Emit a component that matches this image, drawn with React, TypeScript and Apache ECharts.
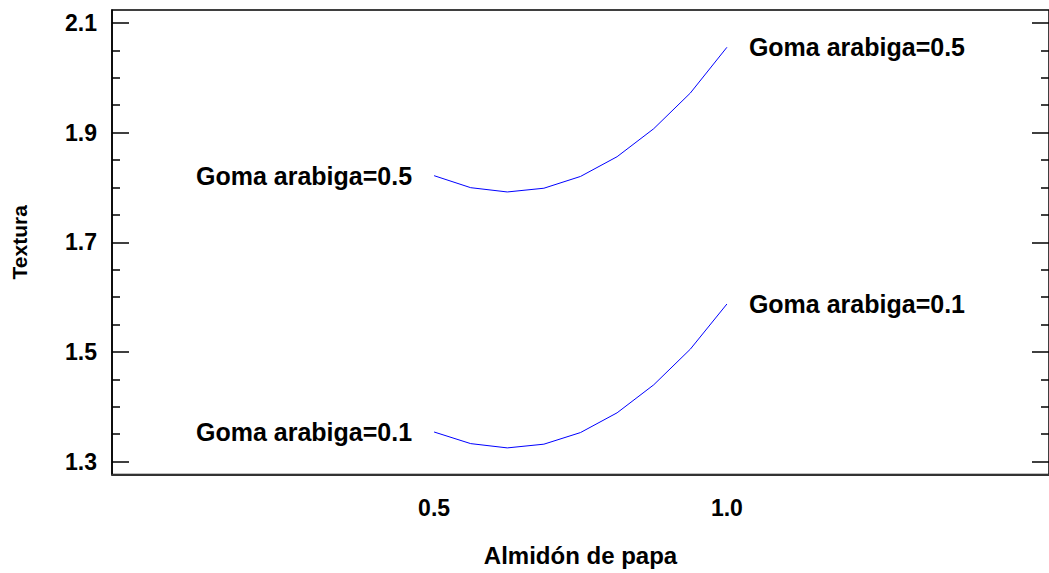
import React, { useEffect, useRef } from "react";
import * as echarts from "echarts";

// Almidón de papa levels at which the fitted response was evaluated
const almidon = [0.5, 0.5625, 0.625, 0.6875, 0.75, 0.8125, 0.875, 0.9375, 1.0];
// Textura for Goma arabiga = 0.5
const texturaGoma05 = [1.8214, 1.7995, 1.7917, 1.7985, 1.82, 1.856, 1.907, 1.972, 2.0555];
// Textura for Goma arabiga = 0.1
const texturaGoma01 = [1.354, 1.3328, 1.325, 1.3318, 1.353, 1.389, 1.44, 1.505, 1.5874];

const seriesNames = ["Goma arabiga=0.5", "Goma arabiga=0.1"];

const yMajorTicks = [1.3, 1.5, 1.7, 1.9, 2.1];
const yMinorTicks = [1.35, 1.4, 1.45, 1.55, 1.6, 1.65, 1.75, 1.8, 1.85, 1.95, 2.0, 2.05];
const xTickLabels = [0.5, 1.0];

const FONT = "'Liberation Sans', Arial, sans-serif";
const Y_MIN = 1.2765;
const Y_MAX = 2.1235;

function buildSeries(name: string, values: number[]) {
  const last = values.length - 1;
  return {
    name,
    type: "line",
    xAxisIndex: 0,
    yAxisIndex: 0,
    symbol: "circle",
    symbolSize: 0,
    showSymbol: true,
    silent: true,
    lineStyle: { color: "#0000ff", width: 1 },
    itemStyle: { color: "#0000ff" },
    data: almidon.map((x, i) => {
      const item: any = { value: [x, values[i]] };
      if (i === 0 || i === last) {
        item.label = {
          show: true,
          position: i === 0 ? "left" : "right",
          distance: 22,
          formatter: name,
          color: "#000",
          fontFamily: FONT,
          fontWeight: "bold",
          fontSize: 25,
        };
      }
      return item;
    }),
  };
}

export default function App() {
  const ref = useRef<HTMLDivElement>(null);

  useEffect(() => {
    document.body.style.margin = "0";
    if (!ref.current) return;
    const chart = echarts.init(ref.current, undefined, { renderer: "svg" });

    const tickAxis = (position: "left" | "right", values: number[], length: number) => ({
      type: "value",
      position,
      min: Y_MIN,
      max: Y_MAX,
      axisLine: { show: false, onZero: false },
      splitLine: { show: false },
      axisLabel: { show: false },
      axisTick: {
        show: true,
        inside: true,
        length,
        customValues: values,
        lineStyle: { color: "#000", width: 1.5 },
      },
    });

    chart.setOption({
      animation: false,
      backgroundColor: "#fff",
      grid: {
        left: 112,
        top: 10,
        width: 941,
        height: 464.5,
        show: true,
        borderColor: "#000",
        borderWidth: 1.5,
        containLabel: false,
      },
      xAxis: [
        {
          type: "value",
          min: -0.05,
          max: 1.55,
          name: "Almidón de papa",
          nameLocation: "middle",
          nameGap: 69,
          nameTextStyle: { color: "#000", fontFamily: FONT, fontWeight: "bold", fontSize: 24 },
          axisLine: { show: true, onZero: false, lineStyle: { color: "#333", width: 2 } },
          axisTick: { show: false },
          splitLine: { show: false },
          axisLabel: {
            customValues: xTickLabels,
            formatter: (v: number) => v.toFixed(1),
            margin: 22,
            color: "#000",
            fontFamily: FONT,
            fontWeight: "bold",
            fontSize: 23,
          },
        },
      ],
      yAxis: [
        {
          type: "value",
          position: "left",
          min: Y_MIN,
          max: Y_MAX,
          name: "Textura",
          nameLocation: "middle",
          nameGap: 82,
          nameRotate: 90,
          nameTextStyle: { color: "#000", fontFamily: FONT, fontWeight: "bold", fontSize: 21 },
          axisLine: { show: true, onZero: false, lineStyle: { color: "#000", width: 1.5 } },
          splitLine: { show: false },
          axisTick: {
            show: true,
            inside: true,
            length: 17,
            customValues: yMajorTicks,
            lineStyle: { color: "#000", width: 1.5 },
          },
          axisLabel: {
            customValues: yMajorTicks,
            formatter: (v: number) => v.toFixed(1),
            margin: 15,
            color: "#000",
            fontFamily: FONT,
            fontWeight: "bold",
            fontSize: 23,
          },
        },
        tickAxis("left", yMinorTicks, 8),
        tickAxis("right", yMajorTicks, 17),
        tickAxis("right", yMinorTicks, 8),
      ],
      series: [buildSeries(seriesNames[0], texturaGoma05), buildSeries(seriesNames[1], texturaGoma01)],
    });

    return () => chart.dispose();
  }, []);

  return <div ref={ref} style={{ width: 1049, height: 573 }} />;
}
